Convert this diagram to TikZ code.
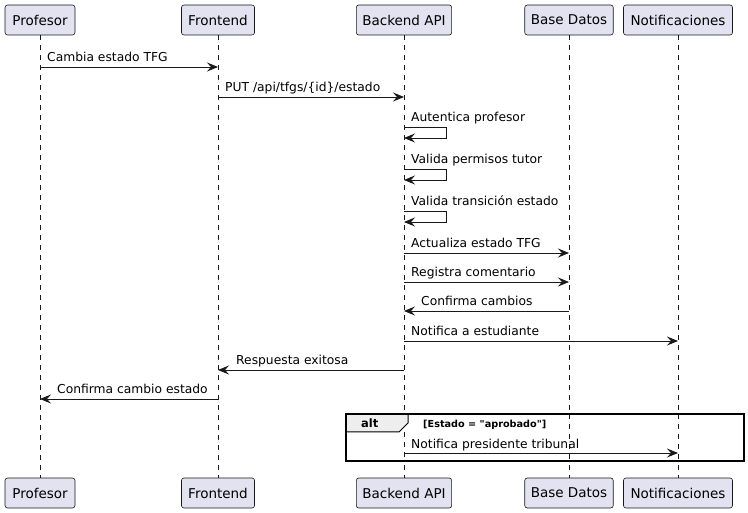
\documentclass[tikz,border=0pt]{standalone}
\usepackage{fontspec}
\setmainfont{DejaVu Sans}[Ligatures=TeXOff]
\usetikzlibrary{arrows.meta,calc}
\definecolor{partfill}{HTML}{E2E2F0}
\definecolor{partline}{HTML}{181818}
\definecolor{tabfill}{HTML}{EEEEEE}
\tikzset{
  part/.style={draw=partline, fill=partfill, rounded corners=2.5pt, line width=0.6pt,
    minimum height=30pt, inner xsep=6pt, font=\fontsize{13.5}{15}\selectfont, text=black},
  life/.style={draw=partline, line width=0.5pt, dash pattern=on 5pt off 5pt},
  msg/.style={draw=partline, line width=0.9pt, -{Stealth[length=11pt,width=9pt,inset=4pt]}},
  lbl/.style={font=\fontsize{12.3}{14}\selectfont, inner sep=0pt, anchor=base west, text=black},
  frame/.style={draw=black, line width=1.6pt},
}
\begin{document}
\begin{tikzpicture}[x=1pt,y=-1pt]
\useasboundingbox (0,0) rectangle (748,513);
% participants top
\node[part, minimum width=70pt] (pT) at (40,20) {Profesor};
\node[part, minimum width=73pt] (fT) at (218,20) {Frontend};
\node[part, minimum width=95pt] (bT) at (404,20) {Backend API};
\node[part, minimum width=88pt] (dT) at (569,20) {Base Datos};
\node[part, minimum width=109pt] (nT) at (678,20) {Notificaciones};
% participants bottom
\node[part, minimum width=70pt] (pB) at (40,493) {Profesor};
\node[part, minimum width=73pt] (fB) at (218,493) {Frontend};
\node[part, minimum width=95pt] (bB) at (404,493) {Backend API};
\node[part, minimum width=88pt] (dB) at (569,493) {Base Datos};
\node[part, minimum width=109pt] (nB) at (678,493) {Notificaciones};
% lifelines
\foreach \a/\b in {pT/pB,fT/fB,bT/bB,dT/dB,nT/nB}
  \draw[life] (\a.south) -- (\b.north);
% alt frame
\draw[frame, fill=white] (346,414) rectangle (744,461);
\draw[line width=1pt, fill=tabfill] (346,414) -- (408,414) -- (408,423) -- (399,432) -- (346,432) -- cycle;
\draw[life] (bT.south |- 0,432) -- (bT.south |- 0,461);
\draw[life] (dT.south |- 0,414) -- (dT.south |- 0,461);
\draw[life] (nT.south |- 0,414) -- (nT.south |- 0,461);
\draw[frame] (346,414) rectangle (744,461);
\node[font=\bfseries\fontsize{11.5}{12}\selectfont, anchor=base west, inner sep=0pt] (altlbl) at (361,428) {alt};
\node[font=\bfseries\fontsize{9.7}{11}\selectfont, anchor=base west, inner sep=0pt] (cond) at (423,428) {[Estado = "aprobado"]};
% messages
\draw[msg] (pT.south |- 0,67) -- (fT.south |- 0,67);
\node[lbl] (m1) at (47,62) {Cambia estado TFG};
\draw[msg] (fT.south |- 0,97) -- (bT.south |- 0,97);
\node[lbl] (m2) at (225,92) {PUT /api/tfgs/\{id\}/estado};
% self messages
\foreach \yt/\txt in {127/Autentica profesor,169/Valida permisos tutor,211/Valida transición estado}{
  \draw[msg] (bT.south |- 0,\yt) -- ($(bT.south |- 0,\yt)+(42,0)$) -- ($(bT.south |- 0,\yt)+(42,11)$) -- ($(bT.south |- 0,\yt)+(0,11)$);
  \node[lbl] at (411,\yt-5) {\txt};
}
\draw[msg] (bT.south |- 0,253) -- (dT.south |- 0,253);
\node[lbl] (m6) at (411,248) {Actualiza estado TFG};
\draw[msg] (bT.south |- 0,282) -- (dT.south |- 0,282);
\node[lbl] (m7) at (411,277) {Registra comentario};
\draw[msg] (dT.south |- 0,311) -- (bT.south |- 0,311);
\node[lbl] (m8) at (421,306) {Confirma cambios};
\draw[msg] (bT.south |- 0,341) -- (nT.south |- 0,341);
\node[lbl] (m9) at (411,336) {Notifica a estudiante};
\draw[msg] (bT.south |- 0,370) -- (fT.south |- 0,370);
\node[lbl] (m10) at (236,365) {Respuesta exitosa};
\draw[msg] (fT.south |- 0,399) -- (pT.south |- 0,399);
\node[lbl] (m11) at (57,394) {Confirma cambio estado};
\draw[msg] (bT.south |- 0,453) -- (nT.south |- 0,453);
\node[lbl] (m12) at (411,448) {Notifica presidente tribunal};
\end{tikzpicture}
\end{document}
